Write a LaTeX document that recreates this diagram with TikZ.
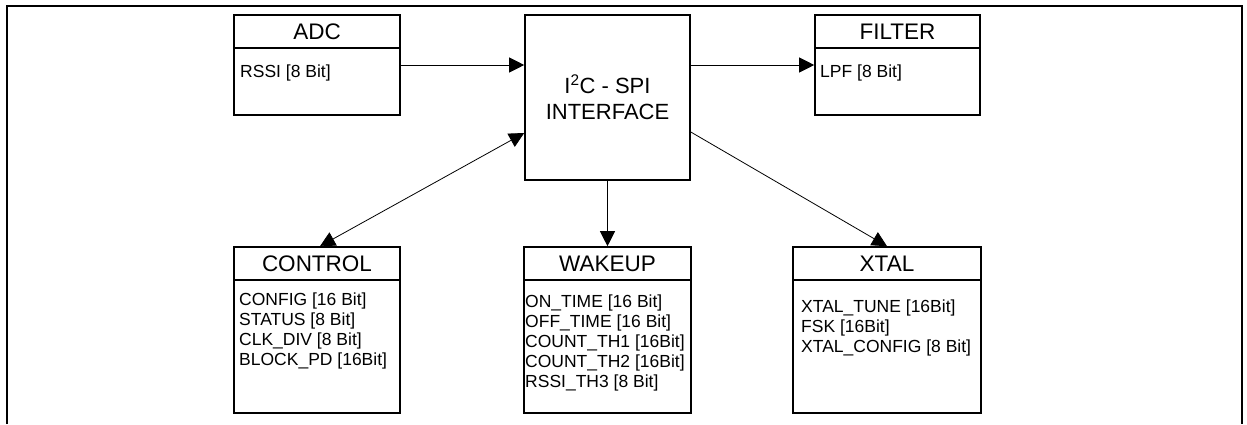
\documentclass[tikz,border=0pt]{standalone}
\usepackage{fontspec}
\setmainfont{Liberation Sans}
\usetikzlibrary{arrows.meta,positioning}

\tikzset{
  blk/.style={draw, line width=1.6pt, inner sep=0pt},
  hdr/.style={blk, minimum height=33pt, font=\fontsize{22.5}{24}\selectfont},
  reg/.style={inner sep=0pt, anchor=base west, font=\fontsize{17.5}{20}\selectfont},
  link/.style={line width=0.8pt, -{Triangle[length=15pt,width=15pt]}},
  dlink/.style={line width=0.8pt, {Triangle[length=15pt,width=15pt]}-{Triangle[length=15pt,width=15pt]}},
}

\begin{document}
\begin{tikzpicture}[x=1pt, y=-1pt]
    \useasboundingbox (0,0) rectangle (1247,424);
    \draw[line width=1.6pt] (7,424) |- (1242,6) -- (1242,424);

    % top row
    \node[blk, minimum width=166pt, minimum height=100pt] (adc) at (317,65) {};
    \node[hdr, minimum width=166pt, anchor=north] (adc-t) at (adc.north) {ADC};
    \node[reg] (adc-r1) at (240,77) {RSSI [8 Bit]};

    \node[blk, minimum width=165pt, minimum height=165pt, align=center,
          font=\fontsize{22}{26.6}\selectfont] (iface) at (607.5,97.5)
          {I\textsuperscript{2}C - SPI\\INTERFACE};

    \node[blk, minimum width=165pt, minimum height=100pt] (filt) at (897.5,65) {};
    \node[hdr, minimum width=165pt, anchor=north] (filt-t) at (filt.north) {FILTER};
    \node[reg] (filt-r1) at (820,77) {LPF [8 Bit]};

    % bottom row
    \node[blk, minimum width=166pt, minimum height=166pt] (ctrl) at (317,330) {};
    \node[hdr, minimum width=166pt, anchor=north] (ctrl-t) at (ctrl.north) {CONTROL};
    \foreach \r [count=\i] in {CONFIG [16 Bit], STATUS [8 Bit], CLK\_DIV [8 Bit], BLOCK\_PD [16Bit]}
        \node[reg] (ctrl-r\i) at (239,285+20*\i) {\r};

    \node[blk, minimum width=167pt, minimum height=166pt] (wake) at (607.5,330) {};
    \node[hdr, minimum width=167pt, anchor=north] (wake-t) at (wake.north) {WAKEUP};
    \foreach \r [count=\i] in {ON\_TIME [16 Bit], OFF\_TIME [16 Bit], COUNT\_TH1 [16Bit], COUNT\_TH2 [16Bit], RSSI\_TH3 [8 Bit]}
        \node[reg] (wake-r\i) at (525,287+20*\i) {\r};

    \node[blk, minimum width=188pt, minimum height=166pt] (xtal) at (887,330) {};
    \node[hdr, minimum width=188pt, anchor=north] (xtal-t) at (xtal.north) {XTAL};
    \foreach \r [count=\i] in {XTAL\_TUNE [16Bit], FSK [16Bit], XTAL\_CONFIG [8 Bit]}
        \node[reg] (xtal-r\i) at (801,292+20*\i) {\r};

    % connections
    \draw[link] (adc.east) -- (adc.east -| iface.west);
    \draw[link] (filt.west -| iface.east) -- (filt.west);
    \draw[dlink] ([yshift=-35.5pt]iface.west) -- ([xshift=3pt]ctrl-t.north);
    \draw[link] (iface.south) -- (wake-t.north);
    \draw[link] ([yshift=-34.5pt]iface.east) -- (xtal-t.north);
\end{tikzpicture}
\end{document}
